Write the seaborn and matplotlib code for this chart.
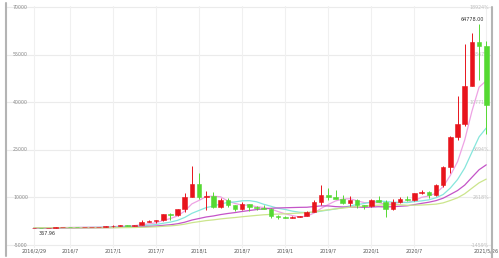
import matplotlib
matplotlib.use("Agg")
import matplotlib.pyplot as plt
import numpy as np
import pandas as pd
import seaborn as sns
from matplotlib.lines import Line2D

# ---- data: monthly candles 2016/2 .. 2021/5 ----
opens = [369, 437, 416, 448, 531, 673, 624, 575, 610, 701, 745,
         964, 971, 1191, 1071, 1348, 2287, 2481, 2875, 4703, 4339, 6468, 10233,
         14157, 10221, 10397, 6973, 9240, 7494, 6404, 7780, 7037, 6625, 6318, 4017,
         3743, 3457, 3854, 4105, 5350, 8574, 10817, 10085, 9630, 8293, 9199, 7569,
         7194, 9350, 8543, 6424, 8630, 9455, 9138, 11335, 11645, 10776, 13804, 19625,
         28990, 33114, 45137, 58918, 57750]
highs = [448, 439, 467, 548, 778, 704, 626, 628, 720, 755, 975,
         1191, 1211, 1291, 1351, 2764, 2999, 2954, 4737, 4975, 6470, 11517, 19783,
         17712, 11958, 11710, 9745, 9964, 7754, 8474, 7780, 7388, 7680, 6553, 4310,
         4109, 4210, 4297, 5642, 9074, 13970, 13130, 12273, 10898, 10370, 9505, 7743,
         9578, 10500, 9167, 9440, 10067, 10380, 11444, 12468, 12050, 14100, 19860, 29300,
         41950, 58330, 61780, 64778, 59500]
lows = [367.96, 394, 414, 436, 531, 608, 540, 570, 607, 683, 741,
        752, 916, 901, 1061, 1348, 2117, 1830, 2700, 2981, 4168, 5560, 10130,
        9402, 6048, 6683, 6526, 7090, 5826, 6160, 5880, 6111, 6208, 3652, 3191,
        3400, 3400, 3734, 4096, 5332, 7564, 9110, 9421, 7856, 7446, 6515, 6435,
        6871, 8470, 3850, 6150, 8117, 8833, 8976, 10985, 9825, 10416, 13206, 17600,
        28130, 32384, 45000, 47044, 30000]
closes = [437, 416, 448, 531, 673, 624, 575, 610, 701, 745, 964,
          971, 1191, 1071, 1348, 2287, 2481, 2875, 4703, 4339, 6468, 10233, 14157,
          10221, 10397, 6973, 9240, 7494, 6404, 7780, 7037, 6625, 6318, 4017, 3743,
          3457, 3854, 4105, 5350, 8574, 10817, 10085, 9630, 8293, 9199, 7569, 7194,
          9350, 8543, 6424, 8630, 9455, 9138, 11335, 11645, 10776, 13804, 19625, 28990,
          33114, 45137, 58918, 57750, 39200]
# closes before the first candle (2013/9 .. 2016/1), used only to warm up the averages
prior_closes = [141, 211, 1205, 805, 938, 573, 457, 448, 630, 640, 586, 481,
                387, 338, 378, 320, 217, 254, 244, 236, 230, 263, 284, 230,
                236, 314, 377, 430, 368]

ma_windows = [5, 10, 20, 30]
ma_colors = ["#eea3e4", "#86e6dc", "#c454c8", "#cbe58c"]

tick_idx = [0, 5, 11, 17, 23, 29, 35, 41, 47, 53, 63]
tick_labels = ["2016/2/29", "2016/7", "2017/1", "2017/7", "2018/1", "2018/7",
               "2019/1", "2019/7", "2020/1", "2020/7", "2021/5/26"]
y_ticks = [-5000, 10000, 25000, 40000, 55000, 70000]
base_price = 367.96
peak_text = "64778.00"
low_text = "367.96"

UP = "#e8141c"
DOWN = "#55d932"

# ---- figure ----
sns.set_theme(style="white")
plt.rcParams["font.family"] = ["DejaVu Sans"]
W, H = 499, 258
fig = plt.figure(figsize=(W / 100, H / 100), dpi=100)
ax = fig.add_axes([6 / W, 1 - 248 / H, 486 / W, 242 / H])

n = len(closes)
idx = np.arange(n)
o = np.array(opens, float)
c = np.array(closes, float)
hi = np.array(highs, float)
lo = np.array(lows, float)

# grid
for v in y_ticks:
    ax.axhline(v, color="#ebebeb", lw=0.8, zorder=0)
for t in tick_idx:
    ax.axvline(t, color="#f0f0f0", lw=0.8, zorder=0)

# moving averages
all_closes = pd.Series(prior_closes + closes, dtype=float)
for w, col in zip(ma_windows, ma_colors):
    ma = all_closes.rolling(w, min_periods=1).mean().to_numpy()[-n:]
    sns.lineplot(x=idx, y=ma, color=col, lw=0.9, ax=ax, zorder=2)

# candles
colors = [UP if cc >= oo else DOWN for oo, cc in zip(o, c)]
ax.vlines(idx, lo, hi, colors=colors, lw=0.7, zorder=3)
ax.bar(idx, np.abs(c - o), bottom=np.minimum(o, c), width=0.64,
       color=colors, edgecolor=colors, lw=0.4, zorder=4)

ax.set_xlim(-3.9, 63.8)
ax.set_ylim(-5946, 70394)
ax.set_xticks(tick_idx)
ax.set_xticklabels(tick_labels, fontsize=3.5, color="#555555")
ax.set_yticks([])
ax.tick_params(axis="x", length=0, pad=0.4)
for s in ax.spines.values():
    s.set_visible(False)

# left value labels and right percentage labels
for v in y_ticks:
    ax.text(22 / 486, v, f"{v}", transform=ax.get_yaxis_transform(),
            ha="right", va="center", fontsize=3.4, color="#8a8a8a", zorder=1)
    pct = (v / base_price - 1) * 100
    ax.text(483 / 486, v, f"{pct:.0f}%", transform=ax.get_yaxis_transform(),
            ha="right", va="center", fontsize=3.4, color="#c0c0c0", zorder=1)

# annotations
ax.annotate(peak_text, xy=(62, highs[62]), xytext=(-5, 1), textcoords="offset points",
            ha="center", va="bottom", fontsize=3.5, color="#333333", zorder=6)
ax.annotate(low_text, xy=(0, lows[0]), xytext=(3, -2), textcoords="offset points",
            ha="left", va="top", fontsize=3.5, color="#333333", zorder=6)

# side frame lines
fig.add_artist(Line2D([6 / W, 6 / W], [1 - 3 / H, 1 - 256 / H], color="#b4b4b4", lw=1.5))
fig.add_artist(Line2D([492 / W, 492 / W], [1 - 7 / H, 0], color="#b4b4b4", lw=1.5))

fig.savefig("out.png", dpi=100, facecolor="white")
